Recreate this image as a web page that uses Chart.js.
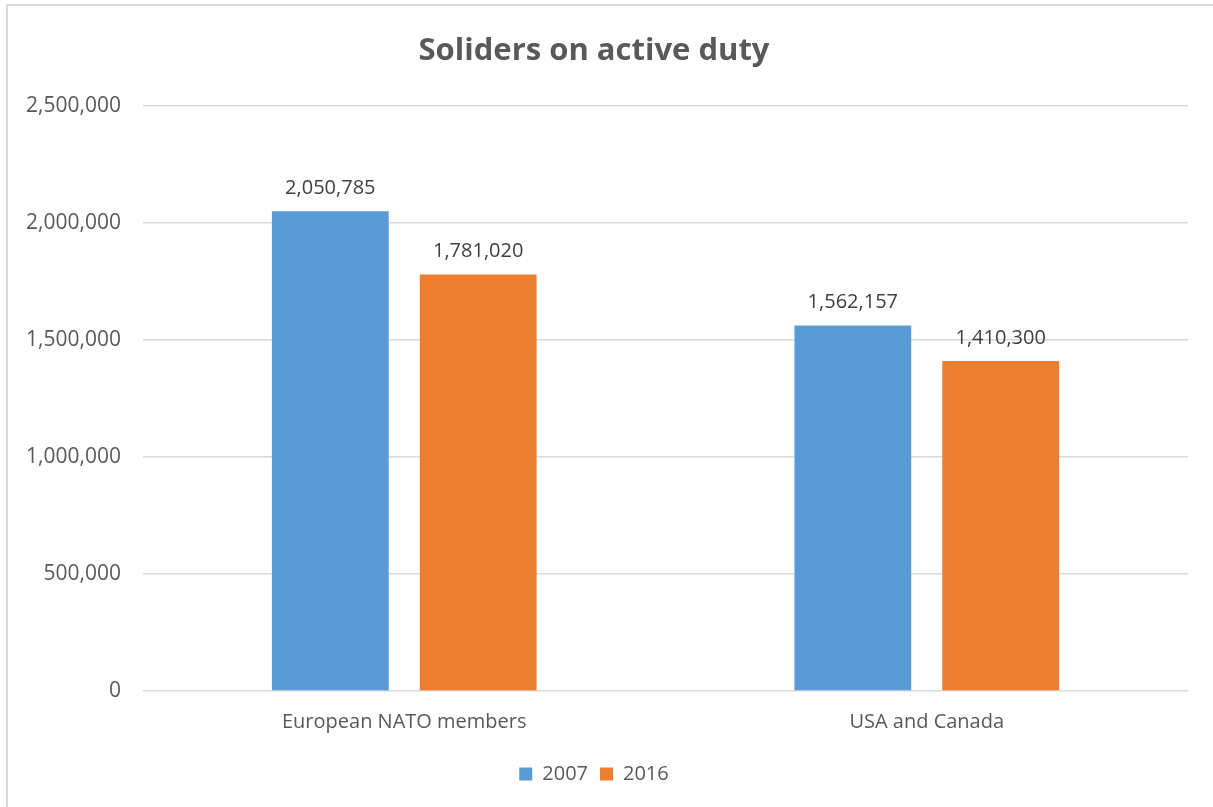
<!DOCTYPE html>
<html lang="en">
<head>
  <meta charset="UTF-8" />
  <title>Soliders on active duty</title>
  <script src="https://cdn.jsdelivr.net/npm/chart.js"></script>
  <style>
    body { margin: 0; background: #fff; }
    #wrap { position: relative; width: 1213px; height: 807px; overflow: hidden; }
    #frame {
      position: absolute; left: 6px; top: 4px; width: 1240px; height: 840px;
      border: 2px solid #d9d9d9; pointer-events: none;
    }
  </style>
</head>
<body>
  <div id="wrap">
    <canvas id="chart" width="1213" height="807"></canvas>
    <div id="frame"></div>
  </div>

  <script>
    const categories = ['European NATO members', 'USA and Canada'];
    const years = ['2007', '2016'];
    const values2007 = [2050785, 1562157];
    const values2016 = [1781020, 1410300];
    const yTicks = [0, 500000, 1000000, 1500000, 2000000, 2500000];

    const textColor = '#595959';
    const fmt = v => v.toLocaleString('en-US');

    // etiquetas de valor em cima das barras
    const barLabels = {
      id: 'barLabels',
      afterDatasetsDraw(chart) {
        const c = chart.ctx;
        c.save();
        c.font = '20px "Open Sans"';
        c.fillStyle = '#404040';
        c.textAlign = 'center';
        c.textBaseline = 'middle';
        chart.data.datasets.forEach((ds, i) => {
          chart.getDatasetMeta(i).data.forEach((bar, j) => {
            c.fillText(fmt(ds.data[j]), bar.x, bar.y - 23);
          });
        });
        c.restore();
      }
    };

    new Chart(document.getElementById('chart'), {
      type: 'bar',
      data: {
        labels: categories,
        datasets: [
          { label: years[0], data: values2007, backgroundColor: '#5b9bd5' },
          { label: years[1], data: values2016, backgroundColor: '#ed7d31' }
        ]
      },
      options: {
        responsive: false,
        animation: false,
        categoryPercentage: 0.566,
        barPercentage: 0.79,
        layout: { padding: { left: 0, right: 25, top: 0, bottom: 13 } },
        scales: {
          x: {
            grid: { display: false },
            border: { display: false },
            ticks: { color: textColor, font: { size: 20, family: 'Open Sans' }, padding: 11 },
            afterFit: s => { s.height = 61; }
          },
          y: {
            min: 0,
            max: 2500000,
            afterBuildTicks: s => { s.ticks = yTicks.map(v => ({ value: v })); },
            grid: { color: '#d9d9d9', lineWidth: 1.5, drawTicks: false },
            border: { display: false },
            ticks: {
              color: textColor,
              font: { size: 21, family: 'Open Sans' },
              padding: 22,
              callback: v => fmt(v)
            },
            afterFit: s => { s.width = 143; }
          }
        },
        plugins: {
          title: {
            display: true,
            text: 'Soliders on active duty',
            color: textColor,
            font: { size: 31, weight: 'bold', family: 'Open Sans' },
            padding: { top: 33, bottom: 36 }
          },
          legend: {
            position: 'bottom',
            labels: {
              color: textColor,
              font: { size: 20, family: 'Open Sans' },
              boxWidth: 13,
              boxHeight: 13,
              padding: 12
            }
          },
          tooltip: { enabled: false }
        }
      },
      plugins: [barLabels]
    });
  </script>
</body>
</html>
